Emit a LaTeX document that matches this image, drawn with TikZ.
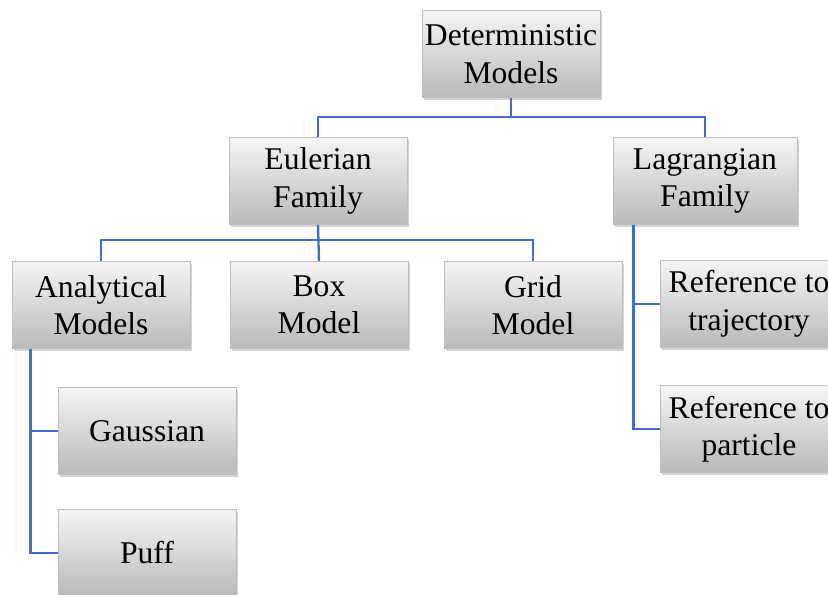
\documentclass[tikz,border=0pt]{standalone}
\usepackage{fontspec}
\setmainfont{Liberation Serif}
\usepackage{tikz}
\usetikzlibrary{calc, shadows}

\definecolor{linkblue}{RGB}{70,105,215}

\begin{document}
\begin{tikzpicture}[x=0.03cm, y=-0.03cm,
    model/.style={draw=gray!50, line width=0.6pt, top color=gray!8, middle color=white,
        bottom color=gray!55, minimum width=178*0.03cm, minimum height=87*0.03cm,
        align=center, inner sep=0pt, font=\fontsize{27}{32}\selectfont,
        drop shadow={shadow xshift=2pt, shadow yshift=-2pt, opacity=0.35}},
    link/.style={linkblue, line width=2pt}]
\useasboundingbox (0,0) rectangle (828,595);

% Top level
\node[model] (det) at (511,54) {Deterministic\\Models};

% Families
\node[model] (eul) at (318,181) {Eulerian\\Family};
\node[model, minimum width=184*0.03cm] (lag) at (705,181) {Lagrangian\\Family};

% Eulerian branch
\node[model] (ana) at (101,305) {Analytical\\Models};
\node[model] (box) at (319,305) {Box\\Model};
\node[model] (grid) at (533,305) {Grid\\Model};

\node[model] (gau) at (147,431) {Gaussian};
\node[model] (puff) at (147,553) {Puff};

% Lagrangian branch
\node[model] (traj) at (749,304) {Reference to\\trajectory};
\node[model] (part) at (749,429) {Reference to\\particle};

% Connectors
\draw[link] (det.south) -- +(0,19) -| (eul.north);
\draw[link] (det.south) -- +(0,19) -| (lag.north);

\draw[link] (eul.south) -- +(0,15) -| (ana.north);
\draw[link] (eul.south) -- (box.north);
\draw[link] (eul.south) -- +(0,15) -| (grid.north);

\coordinate (anatap) at ($(ana.south west)+(19,0)$);
\draw[link] (anatap) |- (gau.west);
\draw[link] (anatap) |- (puff.west);

\coordinate (lagtap) at ($(lag.south west)+(21,0)$);
\draw[link] (lagtap) |- (traj.west);
\draw[link] (lagtap) |- (part.west);
\end{tikzpicture}
\end{document}
